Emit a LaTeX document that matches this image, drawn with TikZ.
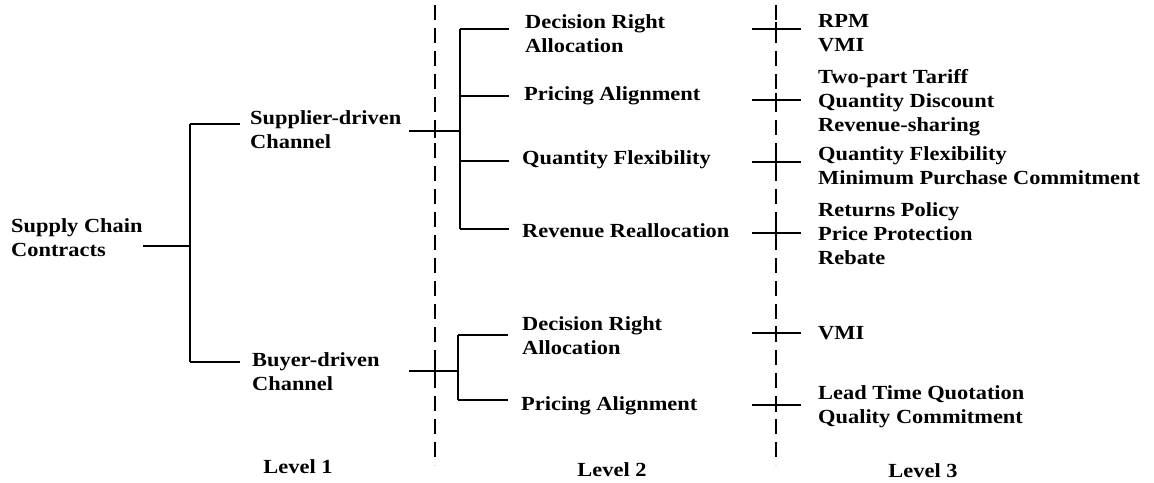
\documentclass[tikz,border=0pt]{standalone}
\usepackage{fontspec}
\setmainfont{Liberation Serif}[FakeStretch=1.12]
\usetikzlibrary{positioning,calc}
\tikzset{
  itemText/.style={
    anchor=west,
    inner sep=0pt,
    align=left,
    font=\fontsize{20}{24}\selectfont\bfseries
  },
  levelText/.style={
    inner sep=0pt,
    font=\fontsize{20}{24}\selectfont\bfseries
  },
  treeLine/.style={
    line width=1.1pt
  },
  levelSep/.style={
    line width=1.1pt,
    dash pattern=on 15pt off 8pt
  }
}

\begin{document}
\begin{tikzpicture}[x=1pt,y=-1pt]
        \useasboundingbox (0,0) rectangle (1154,482);

        % level 1
        \node[itemText] (contracts) at (11,238) {Supply Chain\\Contracts};
        \node[itemText] (supplier) at (250,130) {Supplier-driven\\Channel};
        \node[itemText] (buyer) at (252,372) {Buyer-driven\\Channel};

        % level 2
        \node[itemText] (sDecision) at (525,34) {Decision Right\\Allocation};
        \node[itemText] (sPricing) at (524,96) {Pricing Alignment};
        \node[itemText] (sQuantity) at (522,160) {Quantity Flexibility};
        \node[itemText] (sRevenue) at (522,231) {Revenue Reallocation};
        \node[itemText] (bDecision) at (522,336) {Decision Right\\Allocation};
        \node[itemText] (bPricing) at (521,406) {Pricing Alignment};

        % level 3
        \node[itemText] (sDecisionList) at (818,33) {RPM\\VMI};
        \node[itemText] (sPricingList) at (818,103) {Two-part Tariff\\Quantity Discount\\Revenue-sharing};
        \node[itemText] (sQuantityList) at (818,166) {Quantity Flexibility\\Minimum Purchase Commitment};
        \node[itemText] (sRevenueList) at (818,234) {Returns Policy\\Price Protection\\Rebate};
        \node[itemText] (bDecisionList) at (818,333) {VMI};
        \node[itemText] (bPricingList) at (818,407) {Lead Time Quotation\\Quality Commitment};

        \node[levelText] (levelOne) at (298,467) {Level 1};
        \node[levelText] (levelTwo) at (612,470) {Level 2};
        \node[levelText] (levelThree) at (923,471) {Level 3};

        % separators
        \draw[levelSep] (435,5) coordinate (sepOneTop) -- (435,465) coordinate (sepOneBottom);
        \draw[levelSep] (776,5) coordinate (sepTwoTop) -- (776,465) coordinate (sepTwoBottom);

        % root fork
        \coordinate (rootFork) at (190,246);
        \coordinate (rootTop) at (190,124);
        \coordinate (rootBottom) at (190,362);
        \draw[treeLine] (rootFork -| contracts.east) -- (rootFork);
        \draw[treeLine] (rootTop) -- (rootBottom);
        \draw[treeLine, shorten >=10pt] (rootTop) -- (rootTop -| supplier.west);
        \draw[treeLine, shorten >=12pt] (rootBottom) -- (rootBottom -| buyer.west);

        % supplier fork
        \coordinate (supFork) at (460,131);
        \draw[treeLine, shorten <=8pt] (supFork -| supplier.east) -- (supFork);
        \draw[treeLine] (460,29) -- (460,229);
        \foreach \name/\y in {sDecision/29, sPricing/96, sQuantity/161, sRevenue/229}
            \draw[treeLine] (460,\y) -- (509,\y);

        % buyer fork
        \coordinate (buyFork) at (458,371);
        \draw[treeLine, shorten <=8pt] (buyFork -| supplier.east) -- (buyFork);
        \draw[treeLine] (458,335) -- (458,400);
        \foreach \name/\y in {bDecision/335, bPricing/400}
            \draw[treeLine] (458,\y) -- (508,\y);

        % crossings
        \foreach \y in {131, 371} {
            \coordinate (cross) at (435,\y);
            \draw[treeLine] ([yshift=-7pt]cross) -- ([yshift=7pt]cross);
        }
        \foreach \y in {29, 100, 162, 233, 333, 405} {
            \coordinate (tick) at (776,\y);
            \draw[treeLine] ([xshift=-24pt]tick) -- ([xshift=25pt]tick);
            \draw[treeLine] ([yshift=-7pt]tick) -- ([yshift=7pt]tick);
        }
    \end{tikzpicture}
\end{document}
